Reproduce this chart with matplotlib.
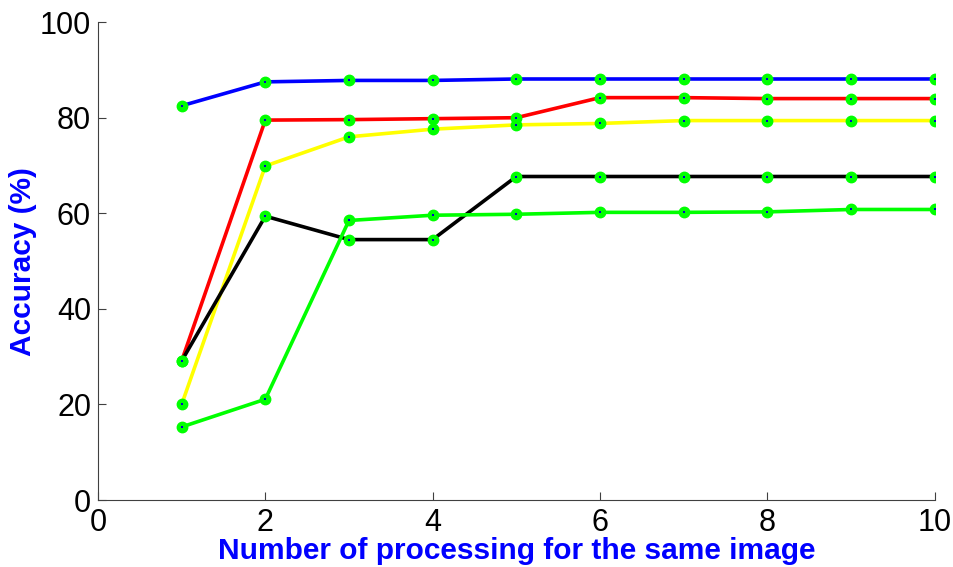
import matplotlib
matplotlib.use("Agg")
import matplotlib.pyplot as plt

# number of processing passes on the same image
runs = [1, 2, 3, 4, 5, 6, 7, 8, 9, 10]

acc_blue = [82.5, 87.5, 87.8, 87.8, 88.1, 88.1, 88.1, 88.1, 88.1, 88.1]
acc_red = [29.1, 79.5, 79.6, 79.8, 80.0, 84.2, 84.2, 84.0, 84.0, 84.0]
acc_yellow = [20.0, 69.9, 76.0, 77.6, 78.5, 78.8, 79.4, 79.4, 79.4, 79.4]
acc_black = [29.1, 59.4, 54.5, 54.5, 67.7, 67.7, 67.7, 67.7, 67.7, 67.7]
acc_green = [15.3, 21.1, 58.5, 59.6, 59.8, 60.2, 60.2, 60.3, 60.8, 60.8]

series = [
    (acc_blue, "#0000ff"),
    (acc_red, "#ff0000"),
    (acc_yellow, "#ffff00"),
    (acc_black, "#000000"),
    (acc_green, "#00ff00"),
]

label_font = "Liberation Sans"

fig = plt.figure(figsize=(9.54, 5.67), dpi=100)
ax = fig.add_axes([0.1027, 0.118, 0.877, 0.843])

for vals, col in series:
    ax.plot(runs, vals, color=col, linewidth=2.6, zorder=2)
    ax.plot(runs, vals, linestyle="none", marker="o", markersize=7.5,
            markerfacecolor="#00ff00", markeredgecolor="#00ff00",
            markeredgewidth=1.0, zorder=3)
    ax.plot(runs, vals, linestyle="none", marker="s", markersize=2.0,
            markerfacecolor="#0000cc", markeredgecolor="#0000cc",
            markeredgewidth=0, zorder=4)

ax.set_xlim(0, 10)
ax.set_ylim(0, 100)
ax.set_xticks([0, 2, 4, 6, 8, 10])
ax.set_yticks([0, 20, 40, 60, 80, 100])

for s in ["top", "right"]:
    ax.spines[s].set_visible(False)
for s in ["left", "bottom"]:
    ax.spines[s].set_color("#404040")
    ax.spines[s].set_linewidth(0.8)

ax.tick_params(direction="in", length=6, width=0.8, color="#404040",
               labelsize=22)
ax.tick_params(axis="x", pad=6)
ax.tick_params(axis="y", pad=5)
for lab in ax.get_xticklabels() + ax.get_yticklabels():
    lab.set_family(label_font)

ax.set_xlabel("Number of processing for the same image", fontsize=21.5,
              fontweight="bold", color="#0000ff", family=label_font, labelpad=-1)
ax.set_ylabel("Accuracy (%)", fontsize=21.5, fontweight="bold",
              color="#0000ff", family=label_font, labelpad=2)

fig.savefig("out.png", dpi=100)
